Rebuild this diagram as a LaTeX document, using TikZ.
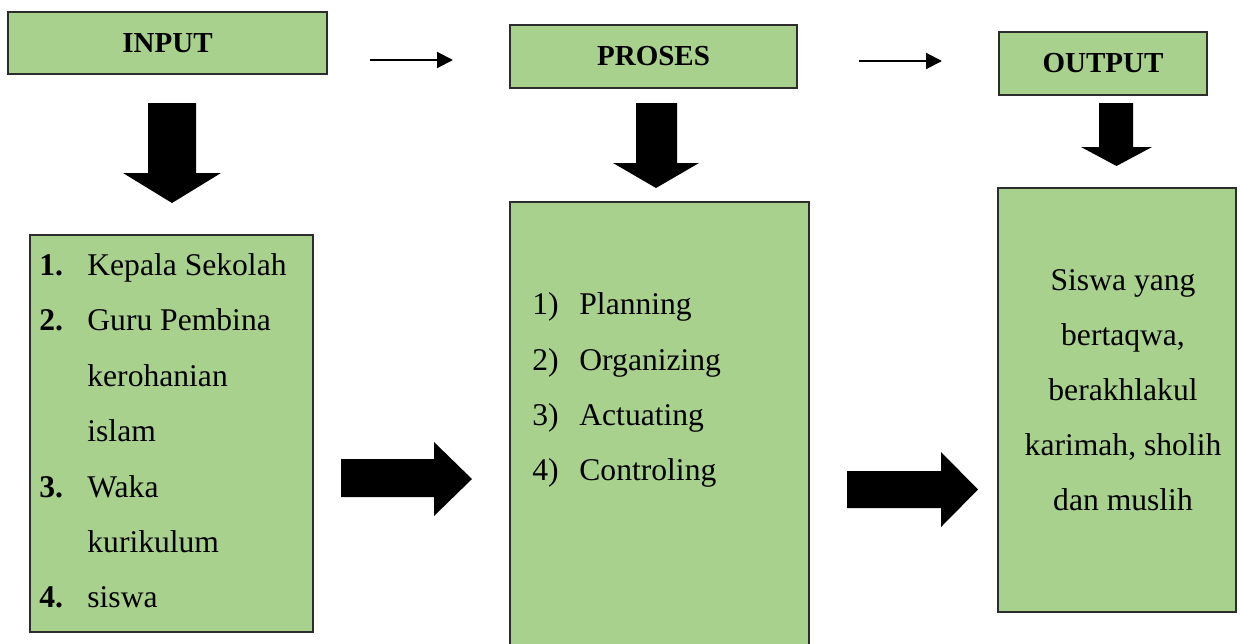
\documentclass[tikz,border=0pt]{standalone}
\usepackage{fontspec}
\setmainfont{Liberation Serif}
\usetikzlibrary{arrows.meta}

\definecolor{boxgreen}{RGB}{169,209,142}
\definecolor{boxline}{RGB}{45,45,45}

\tikzset{
  hdr/.style={draw=boxline, line width=0.75pt, fill=boxgreen, inner sep=0pt,
    font=\fontsize{14.5}{17}\selectfont\bfseries},
  listbox/.style={draw=boxline, line width=0.75pt, fill=boxgreen, inner sep=0pt},
  item/.style={anchor=base west, inner sep=0pt, font=\fontsize{15.8}{19}\selectfont},
  citem/.style={anchor=base, inner sep=0pt, font=\fontsize{15.8}{19}\selectfont},
  thinarrow/.style={line width=1pt, -{Triangle[length=8pt, width=8pt]}},
  blockarrow/.style={fill=black}
}
\newcommand{\boldno}[1]{\makebox[24pt][l]{\textbf{#1}}}
\newcommand{\plainno}[1]{\makebox[23.5pt][l]{#1}}

\begin{document}
\begin{tikzpicture}[x=0.5pt, y=-0.5pt]
\useasboundingbox (0,0) rectangle (1240,643);

% header boxes
\node[hdr, minimum width=159.5pt, minimum height=31pt] (input) at (167.5,43) {INPUT};
\node[hdr, minimum width=143.5pt, minimum height=31.5pt] (proses) at (653.5,56.5) {PROSES};
\node[hdr, minimum width=104pt, minimum height=31.5pt] (output) at (1103,63.5) {OUTPUT};

% thin arrows between headers
\coordinate (a1s) at (370,60);
\coordinate (a1e) at (453,60);
\coordinate (a2s) at (859,61);
\coordinate (a2e) at (942,61);
\draw[thinarrow] (a1s) -- (a1e);
\draw[thinarrow] (a2s) -- (a2e);

% down arrows
\fill[blockarrow] (148,103) -- (196,103) -- (196,173) -- (221,173) -- (172,203)
  -- (123,173) -- (148,173) -- cycle;
\fill[blockarrow] (636,103) -- (677,103) -- (677,163) -- (699,163) -- (656,188)
  -- (613,163) -- (636,163) -- cycle;
\fill[blockarrow] (1099,103) -- (1133,103) -- (1133,147) -- (1152,147) -- (1116.5,166)
  -- (1081,147) -- (1099,147) -- cycle;

% right arrows
\fill[blockarrow] (341,459) -- (434,459) -- (434,442) -- (472,479) -- (434,516)
  -- (434,497) -- (341,497) -- cycle;
\fill[blockarrow] (847,471) -- (941,471) -- (941,452) -- (978,489.5) -- (941,527)
  -- (941,508) -- (847,508) -- cycle;

% list boxes
\node[listbox, minimum width=141.5pt, minimum height=198.5pt] (inlist) at (171.5,433.5) {};
\node[listbox, minimum width=149.5pt, minimum height=224pt] (proslist) at (659.5,426) {};
\node[listbox, minimum width=119pt, minimum height=212pt] (outlist) at (1117,400) {};

% input items
\node[item] (in1) at (39,275) {\boldno{1.}Kepala Sekolah};
\node[item] (in2) at (39,330) {\boldno{2.}Guru Pembina};
\node[item] (in3) at (87,386) {kerohanian};
\node[item] (in4) at (87,441) {islam};
\node[item] (in5) at (39,497) {\boldno{3.}Waka};
\node[item] (in6) at (87,552) {kurikulum};
\node[item] (in7) at (39,607) {\boldno{4.}siswa};

% process items
\node[item] (pr1) at (532,314) {\plainno{1)}Planning};
\node[item] (pr2) at (532,370) {\plainno{2)}Organizing};
\node[item] (pr3) at (532,425) {\plainno{3)}Actuating};
\node[item] (pr4) at (532,480) {\plainno{4)}Controling};

% output text
\node[citem] (out1) at (1123,290) {Siswa yang};
\node[citem] (out2) at (1123,345) {bertaqwa,};
\node[citem] (out3) at (1123,400) {berakhlakul};
\node[citem] (out4) at (1123,455) {karimah, sholih};
\node[citem] (out5) at (1123,510) {dan muslih};

\end{tikzpicture}
\end{document}
